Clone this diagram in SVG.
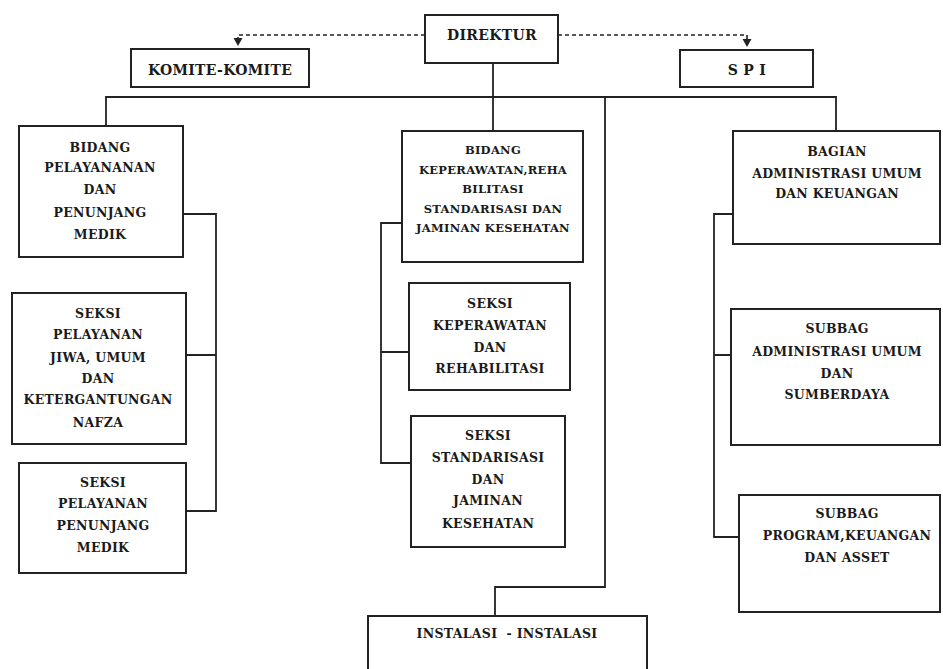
<svg xmlns="http://www.w3.org/2000/svg" width="943" height="669" viewBox="0 0 943 669">
<defs>
<style>
.box{fill:#fff;stroke:#222;stroke-width:2}
.ln{fill:none;stroke:#222;stroke-width:1.8}
.dash{fill:none;stroke:#222;stroke-width:1.6;stroke-dasharray:4 3}
text{font-family:"DejaVu Serif","Liberation Serif",serif;font-weight:bold;font-size:12.5px;fill:#1a1a1a;text-anchor:middle;letter-spacing:0.3px}
.sm{font-size:11.5px}
.big{font-size:14px}
</style>
</defs>
<rect width="943" height="669" fill="#fff"/>
<g id="connectors">
<path class="dash" d="M425,35 H238 V39"/>
<path class="dash" d="M558,35 H747 V40"/>
<path d="M238,46 l-4.5,-8 h9 z M747,47 l-4.5,-8 h9 z" fill="#222"/>
<path class="ln" d="M106,126 V97 H836 V131"/>
<path class="ln" d="M493,63 V131"/>
<path class="ln" d="M605,97 V587 H495 V616"/>
<path class="ln" d="M183,214 H216 V511 H186 M216,355 H186"/>
<path class="ln" d="M402,223 H381 V463 H411 M381,352 H409"/>
<path class="ln" d="M733,214 H714 V537 H739 M714,355 H731"/>
</g>
<g id="direktur">
<rect class="box" x="425" y="15" width="133" height="48"/>
<text class="big" x="492" y="40">DIREKTUR</text>
</g>
<g id="komite">
<rect class="box" x="131" y="49" width="178" height="38"/>
<text class="big" x="220" y="75">KOMITE-KOMITE</text>
</g>
<g id="spi">
<rect class="box" x="680" y="50" width="133" height="37"/>
<text class="big" x="747" y="75" letter-spacing="1">S P I</text>
</g>
<g id="bidang-pelayanan">
<rect class="box" x="19" y="126" width="164" height="131"/>
<text x="100" y="152">BIDANG</text>
<text x="100" y="172">PELAYANANAN</text>
<text x="100" y="194">DAN</text>
<text x="100" y="217">PENUNJANG</text>
<text x="100" y="239">MEDIK</text>
</g>
<g id="seksi-jiwa">
<rect class="box" x="12" y="293" width="174" height="151"/>
<text x="98" y="318">SEKSI</text>
<text x="98" y="339">PELAYANAN</text>
<text x="98" y="362">JIWA, UMUM</text>
<text x="98" y="383">DAN</text>
<text x="98" y="404">KETERGANTUNGAN</text>
<text x="98" y="427">NAFZA</text>
</g>
<g id="seksi-penunjang">
<rect class="box" x="19" y="463" width="167" height="110"/>
<text x="103" y="487">SEKSI</text>
<text x="103" y="508">PELAYANAN</text>
<text x="103" y="530">PENUNJANG</text>
<text x="103" y="552">MEDIK</text>
</g>
<g id="bidang-keperawatan">
<rect class="box" x="402" y="131" width="181" height="131"/>
<text class="sm" x="493" y="154">BIDANG</text>
<text class="sm" x="493" y="174">KEPERAWATAN,REHA</text>
<text class="sm" x="493" y="193">BILITASI</text>
<text class="sm" x="493" y="213">STANDARISASI DAN</text>
<text class="sm" x="493" y="232">JAMINAN KESEHATAN</text>
</g>
<g id="seksi-keperawatan">
<rect class="box" x="409" y="283" width="161" height="107"/>
<text x="490" y="308">SEKSI</text>
<text x="490" y="330">KEPERAWATAN</text>
<text x="490" y="352">DAN</text>
<text x="490" y="373">REHABILITASI</text>
</g>
<g id="seksi-standarisasi">
<rect class="box" x="411" y="416" width="154" height="131"/>
<text x="488" y="440">SEKSI</text>
<text x="488" y="462">STANDARISASI</text>
<text x="488" y="484">DAN</text>
<text x="488" y="505">JAMINAN</text>
<text x="488" y="528">KESEHATAN</text>
</g>
<g id="bagian-adm">
<rect class="box" x="733" y="131" width="207" height="113"/>
<text x="837" y="156">BAGIAN</text>
<text x="837" y="178">ADMINISTRASI UMUM</text>
<text x="837" y="198">DAN KEUANGAN</text>
</g>
<g id="subbag-adm">
<rect class="box" x="731" y="309" width="209" height="136"/>
<text x="837" y="333">SUBBAG</text>
<text x="837" y="356">ADMINISTRASI UMUM</text>
<text x="837" y="378">DAN</text>
<text x="837" y="399">SUMBERDAYA</text>
</g>
<g id="subbag-program">
<rect class="box" x="739" y="495" width="201" height="117"/>
<text x="847" y="518">SUBBAG</text>
<text x="847" y="540">PROGRAM,KEUANGAN</text>
<text x="847" y="562">DAN ASSET</text>
</g>
<g id="instalasi">
<rect class="box" x="368" y="616" width="279" height="60"/>
<text x="507" y="638">INSTALASI&#160; - INSTALASI</text>
</g>
</svg>
